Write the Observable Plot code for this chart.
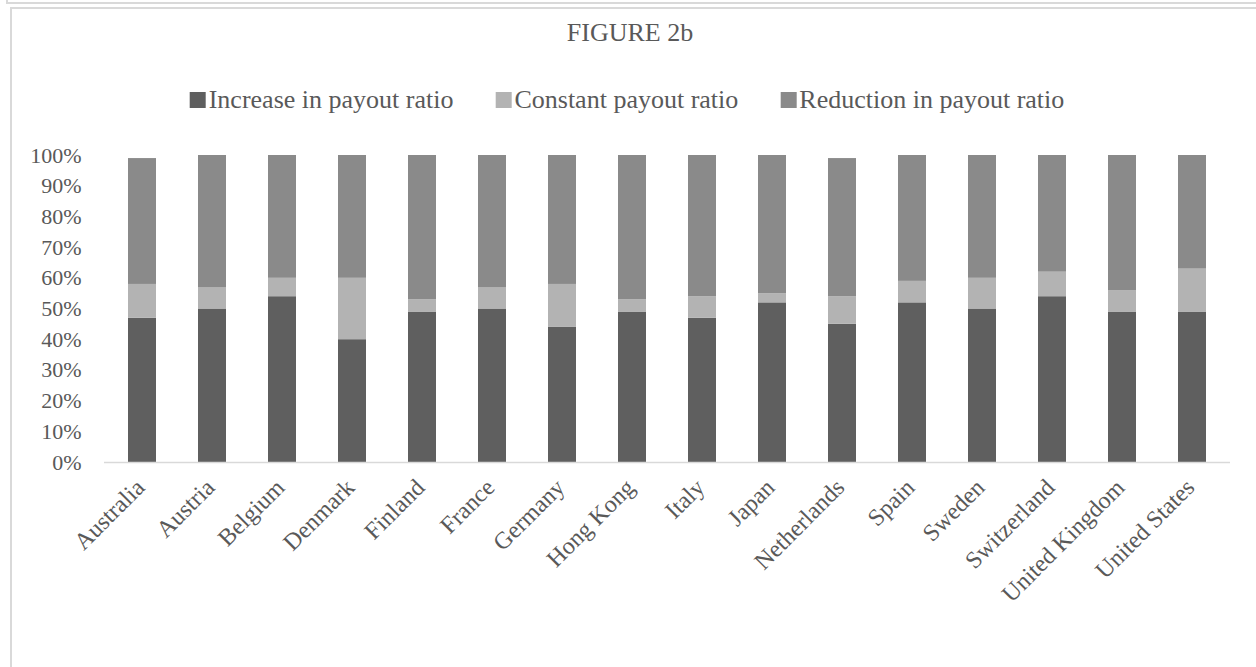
<!DOCTYPE html>
<html>
<head>
<meta charset="utf-8">
<script src="https://cdn.jsdelivr.net/npm/d3@7"></script>
<script src="https://cdn.jsdelivr.net/npm/@observablehq/plot@0.6"></script>
<style>
  html, body { margin: 0; padding: 0; background: #fff; }
  #page { position: relative; width: 1256px; height: 667px; overflow: hidden; background: #fff;
          font-family: "Liberation Serif", "Times New Roman", serif; color: #595959; }
  .line { position: absolute; background: #d9d9d9; }
  #title { position: absolute; top: 20px; left: 630px; transform: translateX(-50%);
           font-size: 26px; white-space: nowrap; line-height: 1; }
  #legend { position: absolute; top: 87px; left: 627px; transform: translateX(-50%);
            display: flex; gap: 42px; white-space: nowrap; font-size: 26px; line-height: 26px; }
  .item { display: flex; align-items: center; }
  .sw { width: 16px; height: 16px; margin-right: 3px; display: inline-block; }
  #chart { position: absolute; left: 0; top: 130px; }
</style>
</head>
<body>
<div id="page">
  <div class="line" style="left:6px; top:2px; right:0; height:1.5px;"></div>
  <div class="line" style="left:6px; top:0; width:1.5px; height:3px;"></div>
  <div class="line" style="left:10px; top:7px; right:0; height:1.5px;"></div>
  <div class="line" style="left:10px; top:7px; width:1.5px; bottom:0;"></div>
  <div id="title"></div>
  <div id="legend"></div>
  <div id="chart"></div>
</div>
<script>
const title = "FIGURE 2b";
const countries = ["Australia","Austria","Belgium","Denmark","Finland","France","Germany","Hong Kong","Italy","Japan","Netherlands","Spain","Sweden","Switzerland","United Kingdom","United States"];
const series = ["Increase in payout ratio","Constant payout ratio","Reduction in payout ratio"];
const increase  = [47,50,54,40,49,50,44,49,47,52,45,52,50,54,49,49];
const constant  = [11, 7, 6,20, 4, 7,14, 4, 7, 3, 9, 7,10, 8, 7,14];
const reduction = [41,43,40,40,47,43,42,47,46,45,45,41,40,38,44,37];
const colors = ["#5f5f5f","#b3b3b3","#8a8a8a"];
const yTicks = [0,10,20,30,40,50,60,70,80,90,100];

const seriesValues = [increase, constant, reduction];
const data = countries.flatMap((c, i) =>
  series.map((s, j) => ({country: c, series: s, value: seriesValues[j][i]})));

document.getElementById("title").textContent = title;

const legend = document.getElementById("legend");
series.forEach((s, j) => {
  const item = document.createElement("div");
  item.className = "item";
  const sw = document.createElement("span");
  sw.className = "sw";
  sw.style.background = colors[j];
  const label = document.createElement("span");
  label.textContent = s;
  item.appendChild(sw);
  item.appendChild(label);
  legend.appendChild(item);
});

const chart = Plot.plot({
  width: 1256,
  height: 537,
  marginTop: 25,
  marginBottom: 205,
  marginLeft: 104,
  marginRight: 26,
  style: {fontFamily: '"Liberation Serif", "Times New Roman", serif', fontSize: "22px", color: "#595959", background: "transparent", overflow: "visible"},
  x: {domain: countries, paddingInner: 0.606, paddingOuter: 0.303, label: null},
  y: {domain: [0, 100], label: null},
  color: {domain: series, range: colors},
  marks: [
    Plot.barY(data, {x: "country", y: "value", fill: "series"}),
    Plot.ruleY([0], {stroke: "#d9d9d9", strokeWidth: 1.5}),
    Plot.axisY({ticks: yTicks, tickFormat: d => d + "%", tickSize: 0, tickPadding: 23, fontSize: 22, fill: "#595959"}),
    Plot.axisX({tickRotate: -45, tickSize: 0, tickPadding: 21, dx: -2, fontSize: 24, fill: "#595959"})
  ]
});
document.getElementById("chart").appendChild(chart);
</script>
</body>
</html>
